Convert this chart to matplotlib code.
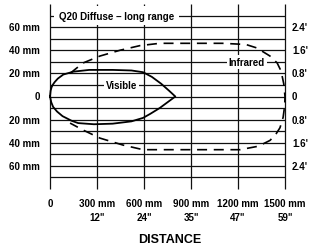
import matplotlib
matplotlib.use("Agg")
import matplotlib.pyplot as plt
from matplotlib.transforms import offset_copy

# ---- data ----
x_ticks = [0, 300, 600, 900, 1200, 1500]
x_labels_mm = ["0", "300 mm", "600 mm", "900 mm", "1200 mm", "1500 mm"]
x_labels_in = ["", '12"', '24"', '35"', '47"', '59"']
y_ticks = [60, 40, 20, 0, -20, -40, -60]
y_labels_mm = ["60 mm", "40 mm", "20 mm", "0", "20 mm", "40 mm", "60 mm"]
y_labels_in = ["2.4'", "1.6'", "0.8'", "0", "0.8'", "1.6'", "2.4'"]
grid_y = [70, 60, 50, 40, 30, 20, 10, 0, -10, -20, -30, -40, -50, -60, -70]

visible_x = [0, 4, 10, 17, 30, 50, 85, 150, 250, 400, 520, 594, 650, 710, 760, 800,
             760, 700, 640, 594, 520, 400, 280, 180, 138, 80, 45, 20, 8, 0]
visible_y = [0, 5, 8, 10, 12.5, 15.5, 19, 21.5, 23, 23, 22.5, 21, 17, 11, 5, 0,
             -4, -10, -15, -18.5, -21.5, -23.5, -24, -23, -21, -17, -13, -9, -5, 0]

infrared_x = [128, 211, 319, 447, 574, 700, 900, 1100, 1250, 1320, 1404, 1450, 1475,
              1492, 1500, 1498, 1488, 1468, 1440, 1404, 1330, 1213, 900, 594, 466, 319, 211, 128]
infrared_y = [20, 29, 35, 40, 44, 46, 46, 46, 45, 42, 35, 29, 22,
              11, 0, -8, -18, -27, -33, -38, -43, -46, -46, -46, -42, -36, -29, -23]

title = "Q20 Diffuse \u2013 long range"
axis_title = "DISTANCE"

# ---- figure ----
W, H = 310, 251
fig = plt.figure(figsize=(W / 100, H / 100), dpi=100)
ax = fig.add_axes([50 / W, 1 - 190 / H, 235 / W, 185 / H])
ax.set_xlim(0, 1500)
ax.set_ylim(-80, 80)
ax.axis("off")

font = ["Liberation Sans", "DejaVu Sans"]
fs = 7
lc = "#111111"

ax.hlines(grid_y, 0, 1500, colors=lc, linewidth=0.9, clip_on=False, zorder=1)
ax.vlines(x_ticks, -80, 80, colors=lc, linewidth=0.9, clip_on=False, zorder=1)

ax.plot(visible_x, visible_y, color="black", linewidth=1.3, zorder=3, clip_on=False)
ln, = ax.plot(infrared_x, infrared_y, color="black", linewidth=1.2, zorder=3, clip_on=False)
ln.set_dashes([6, 4])

box = dict(facecolor="white", edgecolor="none", pad=1.5)
ax.text(427, 70, title, ha="center", va="center", fontsize=fs, fontweight="bold",
        family=font, bbox=dict(facecolor="white", edgecolor="none", pad=3.5), zorder=4)
ax.text(457, 10, "Visible", ha="center", va="center", fontsize=fs, fontweight="bold",
        family=font, bbox=box, zorder=4)
ax.text(1256, 30, "Infrared", ha="center", va="center", fontsize=fs, fontweight="bold",
        family=font, bbox=box, zorder=4)

tl = offset_copy(ax.transData, fig=fig, x=-10, y=0, units="dots")
tr = offset_copy(ax.transData, fig=fig, x=7, y=0, units="dots")
for v, a, b in zip(y_ticks, y_labels_mm, y_labels_in):
    ax.text(0, v, a, transform=tl, ha="right", va="center", fontsize=fs,
            fontweight="bold", family=font, clip_on=False)
    ax.text(1500, v, b, transform=tr, ha="left", va="center", fontsize=fs,
            fontweight="bold", family=font, clip_on=False)

tb1 = offset_copy(ax.transData, fig=fig, x=0, y=-14, units="dots")
tb2 = offset_copy(ax.transData, fig=fig, x=0, y=-28, units="dots")
for v, a, b in zip(x_ticks, x_labels_mm, x_labels_in):
    ax.text(v, -80, a, transform=tb1, ha="center", va="center", fontsize=fs,
            fontweight="bold", family=font, clip_on=False)
    if b:
        ax.text(v, -80, b, transform=tb2, ha="center", va="center", fontsize=fs,
                fontweight="bold", family=font, clip_on=False)

fig.text(170 / W, 1 - 240 / H, axis_title, ha="center", va="center", fontsize=9,
         fontweight="bold", family=font)

fig.savefig("out.png", dpi=100, facecolor="white")
